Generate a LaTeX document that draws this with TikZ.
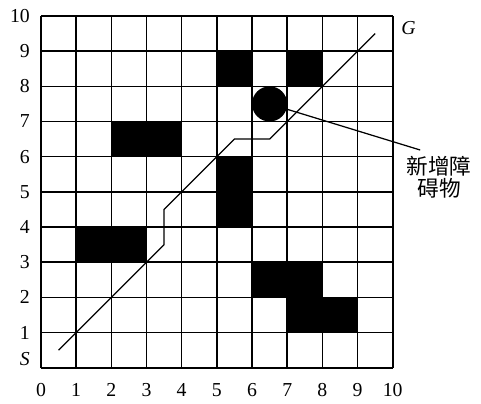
\documentclass[tikz,border=0pt]{standalone}
\usepackage{fontspec}
\setmainfont{Liberation Serif}
\newfontfamily\cjk{Noto Sans CJK SC}
\begin{document}
\begin{tikzpicture}[x=1cm,y=1cm,
  gridline/.style={line width=1.3pt},
  blk/.style={fill=black},
  pathline/.style={line width=1pt},
  axlab/.style={font=\fontsize{16}{18}\selectfont, inner sep=0pt},
  cjklab/.style={font=\cjk\fontsize{17.5}{18}\selectfont, align=center, inner sep=0pt}]
\useasboundingbox (-1.166,-1.004) rectangle (12.51,10.455);
% obstacles
\fill[blk] (5,8) rectangle (6,9);
\fill[blk] (7,8) rectangle (8,9);
\fill[blk] (2,6) rectangle (4,7);
\fill[blk] (5,4) rectangle (6,6);
\fill[blk] (1,3) rectangle (3,4);
\fill[blk] (6,2) rectangle (8,3);
\fill[blk] (7,1) rectangle (9,2);
% grid
\draw[gridline] (0,0) grid (10,10);
% axis labels
\foreach \i in {1,...,10} {
  \node[axlab, anchor=east] (y\i) at (-0.31,\i) {\i};
}
\foreach \i in {0,...,10} {
  \node[axlab] (x\i) at (\i,-0.63) {\i};
}
\node[axlab, anchor=east] (S) at (-0.31,0.25) {\textit{S}};
\node[axlab] (G) at (10.45,9.65) {\textit{G}};
% path
\coordinate (p0) at (0.5,0.5);
\coordinate (p1) at (3.5,3.5);
\coordinate (p2) at (3.5,4.5);
\coordinate (p3) at (5.5,6.5);
\coordinate (p4) at (6.5,6.5);
\coordinate (p5) at (9.5,9.5);
\draw[pathline] (p0) -- (p1) -- (p2) -- (p3) -- (p4) -- (p5);
% new obstacle
\node[circle, fill=black, minimum size=1cm, inner sep=0pt] (obs) at (6.5,7.5) {};
\node[cjklab] (lbl) at (11.32,5.42) {新增障\\碍物};
\coordinate (lend) at (10.78,6.19);
\draw[pathline] (obs) -- (lend);
\end{tikzpicture}
\end{document}
